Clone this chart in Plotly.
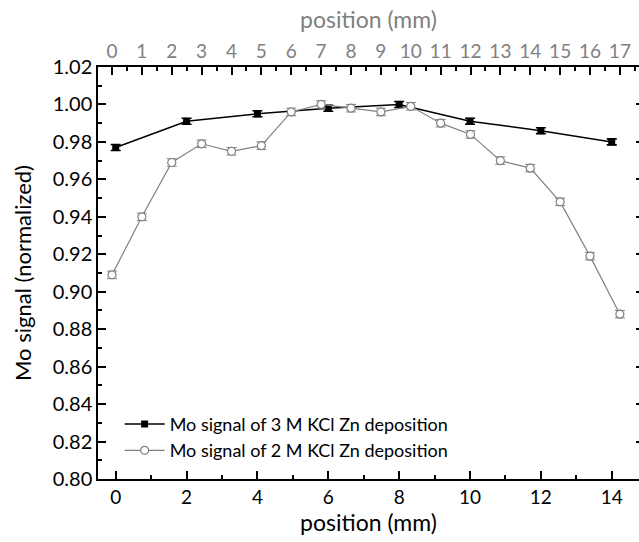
import plotly.graph_objects as go

# 3 M KCl series (bottom axis, mm)
pos_3m = [0, 2, 4, 6, 8, 10, 12, 14]
sig_3m = [0.977, 0.991, 0.995, 0.998, 1.000, 0.991, 0.986, 0.980]
err_3m = [0.0016] * 8

# 2 M KCl series (top axis, mm)
pos_2m = list(range(18))
sig_2m = [0.909, 0.940, 0.969, 0.979, 0.975, 0.978, 0.996, 1.000, 0.998,
          0.996, 0.999, 0.990, 0.984, 0.970, 0.966, 0.948, 0.919, 0.888]
err_2m = [0.002] * 18

FONT = "Lato"
GRAY = "#808080"

fig = go.Figure()
fig.add_trace(go.Scatter(
    x=pos_3m, y=sig_3m, mode="lines+markers",
    name="Mo signal of 3 M KCl Zn deposition",
    line=dict(color="black", width=1.5),
    marker=dict(symbol="square", size=7, color="black"),
    error_y=dict(type="data", array=err_3m, color="black", thickness=1.6, width=5),
    xaxis="x", yaxis="y"))
fig.add_trace(go.Scatter(
    x=pos_2m, y=sig_2m, mode="lines+markers",
    name="Mo signal of 2 M KCl Zn deposition",
    line=dict(color=GRAY, width=1.2),
    marker=dict(symbol="circle", size=8, color="white", line=dict(color=GRAY, width=1.2)),
    error_y=dict(type="data", array=err_2m, color=GRAY, thickness=1, width=5),
    xaxis="x2", yaxis="y"))
# helper so the right-hand axis draws its tick stubs
fig.add_trace(go.Scatter(x=[None], y=[None], xaxis="x", yaxis="y2", showlegend=False,
                         hoverinfo="skip"))

fig.update_layout(
    width=639, height=542,
    margin=dict(l=98, r=0, t=67, b=63),
    paper_bgcolor="white", plot_bgcolor="white",
    font=dict(family=FONT, size=19, color="black"),
    showlegend=True,
    legend=dict(x=0.04, y=0.025, xanchor="left", yanchor="bottom",
                bgcolor="rgba(0,0,0,0)", font=dict(size=18, family=FONT),
                tracegroupgap=0, itemwidth=40),
    xaxis=dict(range=[-0.5, 14.77], tickmode="linear", tick0=0, dtick=2,
               ticks="inside", ticklen=8, tickwidth=1.5, tickcolor="black",
               minor=dict(dtick=1, ticks="inside", ticklen=4, tickwidth=1.5, tickcolor="black"),
               showline=True, linecolor="black", linewidth=1.5, showgrid=False, zeroline=False,
               title=dict(text="position (mm)", font=dict(size=23, family=FONT), standoff=6),
               tickfont=dict(size=19, family=FONT)),
    xaxis2=dict(range=[-0.4685, 17.64], overlaying="x", side="top", tickmode="linear", tick0=0, dtick=1,
                ticks="inside", ticklen=8, tickwidth=1.5, tickcolor="black",
                minor=dict(dtick=0.5, ticks="inside", ticklen=4, tickwidth=1.5, tickcolor="black"),
                showline=True, linecolor="black", linewidth=1.5, showgrid=False, zeroline=False,
                title=dict(text="position (mm)", font=dict(size=23, family=FONT, color=GRAY), standoff=4),
                tickfont=dict(size=19, family=FONT, color=GRAY)),
    yaxis=dict(range=[0.80, 1.02], tickmode="linear", tick0=0.80, dtick=0.02, tickformat=".2f",
               ticks="inside", ticklen=8, tickwidth=1.5, tickcolor="black",
               minor=dict(dtick=0.01, ticks="inside", ticklen=4, tickwidth=1.5, tickcolor="black"),
               showline=True, linecolor="black", linewidth=1.5,
               showgrid=False, zeroline=False,
               title=dict(text="Mo signal (normalized)", font=dict(size=22, family=FONT), standoff=15),
               tickfont=dict(size=20, family=FONT)),
    yaxis2=dict(range=[0.80, 1.02], overlaying="y", side="right", tickmode="linear", tick0=0.80,
                dtick=0.02, ticks="inside", ticklen=3, tickwidth=1.5, tickcolor="black",
                showticklabels=False, showline=False, showgrid=False, zeroline=False),
)

fig.write_html("out.html")
